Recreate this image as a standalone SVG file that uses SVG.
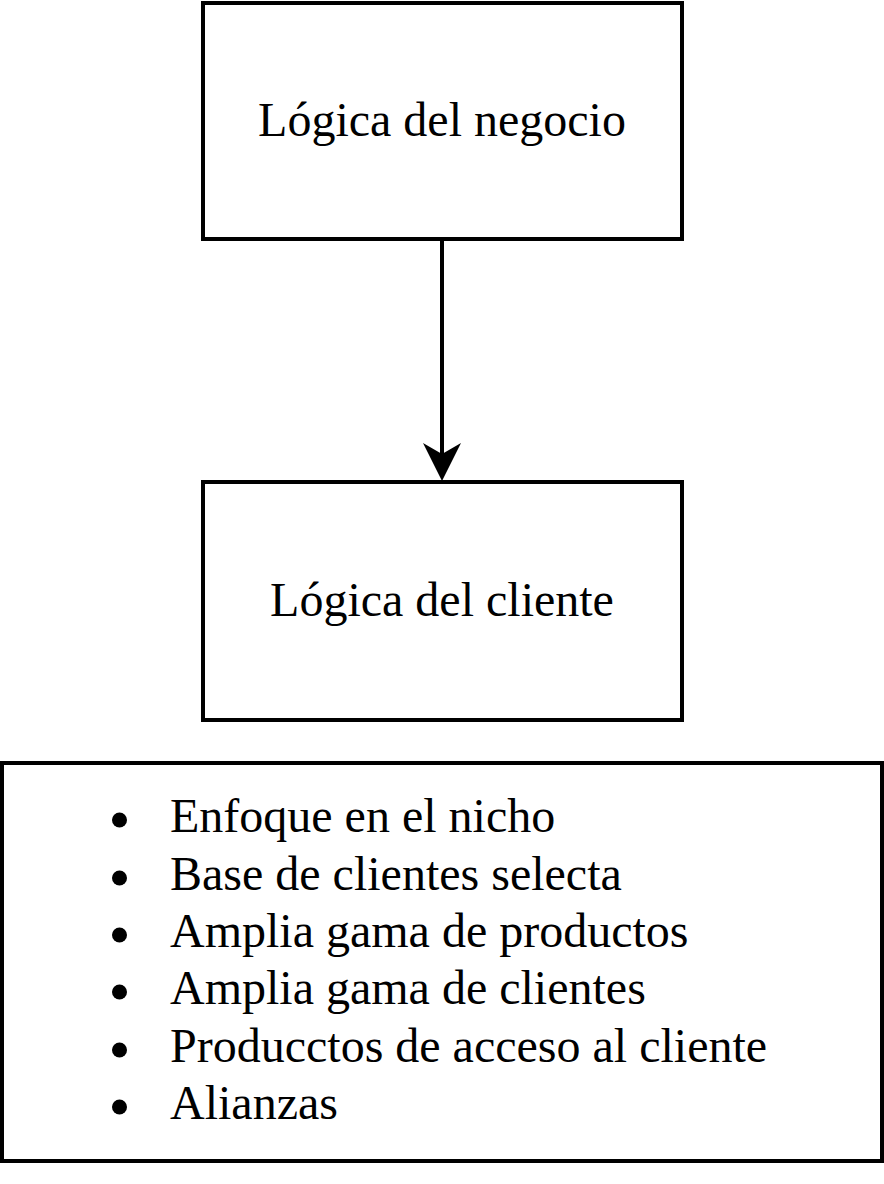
<svg xmlns="http://www.w3.org/2000/svg" width="884" height="1184" viewBox="0 0 884 1184">
<style>
.box{fill:#fff;stroke:#000;stroke-width:4}
.t{font-family:"Liberation Serif","Times New Roman",serif;font-size:48px;fill:#000}
.c{text-anchor:middle}
</style>
<rect width="884" height="1184" fill="#fff"/>
<g id="connectors">
<line x1="442" y1="239" x2="442" y2="460" stroke="#000" stroke-width="4"/>
<path d="M442,481 L423,443 L442,454 L461,443 Z" fill="#000"/>
</g>
<g id="node-negocio">
<rect class="box" x="203" y="3" width="479" height="236"/>
<text class="t c" x="442" y="136">Lógica del negocio</text>
</g>
<g id="node-cliente">
<rect class="box" x="203" y="482" width="479" height="238"/>
<text class="t c" x="442" y="616">Lógica del cliente</text>
</g>
<g id="node-lista">
<rect class="box" x="2" y="763" width="880" height="398"/>
<g fill="#000">
<circle cx="119.5" cy="820" r="7.5"/>
<circle cx="119.5" cy="878" r="7.5"/>
<circle cx="119.5" cy="935" r="7.5"/>
<circle cx="119.5" cy="992" r="7.5"/>
<circle cx="119.5" cy="1050" r="7.5"/>
<circle cx="119.5" cy="1107" r="7.5"/>
</g>
<text class="t" x="170" y="832">Enfoque en el nicho</text>
<text class="t" x="170" y="890">Base de clientes selecta</text>
<text class="t" x="170" y="947">Amplia gama de productos</text>
<text class="t" x="170" y="1004">Amplia gama de clientes</text>
<text class="t" x="170" y="1062">Producctos de acceso al cliente</text>
<text class="t" x="170" y="1119">Alianzas</text>
</g>
</svg>
